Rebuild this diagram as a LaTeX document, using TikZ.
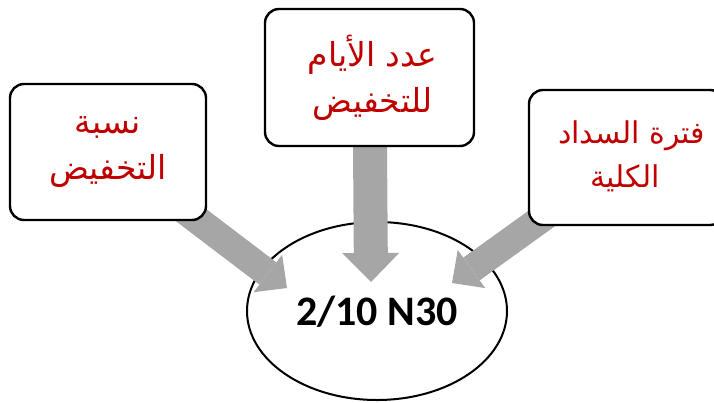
\documentclass[tikz,border=0pt]{standalone}
\usepackage{fontspec}
\setmainfont{Carlito}
\newfontfamily\arabicfont[Script=Arabic]{DejaVu Sans}
\TeXXeTstate=1
\usetikzlibrary{arrows.meta,shapes.geometric}
\pgfdeclarelayer{bottom}
\pgfdeclarelayer{mid}
\pgfsetlayers{bottom,mid,main}
\definecolor{arred}{HTML}{C00000}
\definecolor{argray}{HTML}{A6A6A6}
\begin{document}
\begin{tikzpicture}[x=1pt,y=-1pt,
  box/.style={draw=black, line width=2.4pt, rounded corners=14pt, fill=white, inner sep=0pt},
  lbl/.style={text=arred, align=center, inner sep=0pt, font=\arabicfont\fontsize{33}{46}\selectfont},
  bigarrow/.style={draw=argray, line width=28pt, -{Triangle[width=47pt,length=24pt,line width=0pt]}},
  midarrow/.style={draw=argray, line width=34pt, -{Triangle[width=57pt,length=29pt,line width=0pt]}},
  ell/.style={draw=black, line width=2pt, ellipse, fill=white, inner sep=0pt}]
\clip (0,0) rectangle (714,402);
\useasboundingbox (0,0) rectangle (714,402);
% boxes
\node[box, lbl, minimum width=196pt, minimum height=136pt] (lbox) at (108,152)
  {\beginR نسبة\endR\\\beginR التخفيض\endR};
\node[box, lbl, minimum width=209pt, minimum height=137pt] (mbox) at (369.5,77.5)
  {\hspace*{6pt}\beginR عدد الأيام\endR\\\hspace*{6pt}\beginR للتخفيض\endR};
\node[box, minimum width=195pt, minimum height=135pt] (rbox) at (626.5,157.5) {};
\node[lbl, anchor=west, align=left, font=\arabicfont\fontsize{30}{44}\selectfont] (rlabel) at (558,156)
  {\beginR فترة السداد\endR\\\makebox[134pt]{\beginR الكلية\endR}};
% ellipse
\begin{pgfonlayer}{bottom}
\node[ell, minimum width=260pt, minimum height=178pt] (res) at (377,311) {};
\end{pgfonlayer}
\node[font=\bfseries\fontsize{42}{48}\selectfont, inner sep=0pt] (num) at (377,312) {2/10 N30};
% arrows
\coordinate (ltip) at (287,288);
\coordinate (mtip) at (371,282);
\coordinate (rtip) at (452,283);
\begin{pgfonlayer}{mid}
\draw[bigarrow] (lbox.center) -- (ltip);
\draw[midarrow] (mbox.center) -- (mtip);
\draw[bigarrow] (rbox.center) -- (rtip);
\end{pgfonlayer}
\end{tikzpicture}
\end{document}
